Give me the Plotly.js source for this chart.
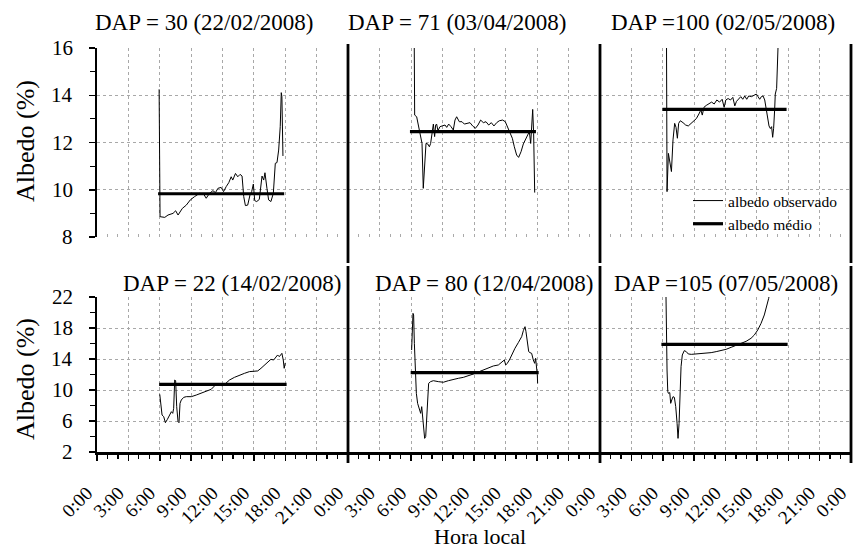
<!DOCTYPE html>
<html>
<head>
<meta charset="utf-8">
<script src="https://cdn.plot.ly/plotly-3.0.1.min.js"></script>
<style>html,body{margin:0;padding:0;background:#fff;}</style>
</head>
<body>
<div id="chart" style="width:856px;height:551px;"></div>
<script>
// ---- DATA ----
const panelTitles = [
  "DAP = 30 (22/02/2008)", "DAP = 71 (03/04/2008)", "DAP =100 (02/05/2008)",
  "DAP = 22 (14/02/2008)", "DAP = 80 (12/04/2008)", "DAP =105 (07/05/2008)"
];
const tickHours  = [0, 3, 6, 9, 12, 15, 18, 21, 24];
const tickLabels = ["0:00","3:00","6:00","9:00","12:00","15:00","18:00","21:00","0:00"];
const yTicksTop    = [8, 10, 12, 14, 16];
const yTicksBottom = [2, 6, 10, 14, 18, 22];

// DAP = 30
const hours_DAP30 = [5.94,6.03,6.48,6.79,7.27,7.52,7.75,8.16,8.54,8.92,9.33,9.81,10.19,10.44,10.76,11.08,11.33,11.56,11.87,12.10,12.35,12.60,12.83,12.98,13.24,13.46,13.68,13.87,14.03,14.19,14.41,14.63,14.79,14.95,15.08,15.27,15.52,15.78,15.94,16.06,16.25,16.41,16.63,16.86,17.05,17.21,17.37,17.52,17.62,17.68,17.78];
const albedo_DAP30 = [14.25,8.86,8.83,8.93,9.00,9.11,8.93,9.21,9.35,9.57,9.71,9.85,9.82,9.64,9.85,9.96,9.88,10.06,10.10,9.92,10.13,10.30,10.55,10.41,10.69,10.55,10.65,10.58,9.71,9.33,9.35,9.78,9.92,10.24,9.54,9.50,9.59,10.58,10.41,10.72,10.06,9.57,9.50,9.85,11.12,11.15,11.68,12.67,14.11,13.94,11.43];

// DAP = 71
const hours_DAP71 = [6.29,6.35,6.54,6.73,6.95,7.05,7.17,7.30,7.43,7.59,7.75,7.87,8.03,8.13,8.25,8.35,8.44,8.57,8.76,9.02,9.24,9.40,9.59,9.81,10.03,10.19,10.35,10.60,10.86,11.08,11.30,11.62,11.87,12.13,12.38,12.63,12.89,13.14,13.40,13.65,13.90,14.16,14.41,14.73,14.98,15.21,15.43,15.65,15.84,16.06,16.25,16.48,16.70,16.92,17.11,17.27,17.40,17.52,17.59,17.68,17.78];
const albedo_DAP71 = [17.5,13.16,13.09,12.60,12.18,11.96,10.06,11.12,11.96,11.94,11.82,11.96,12.39,12.78,12.25,12.74,12.78,12.50,12.67,12.70,12.74,12.64,12.78,12.67,12.53,12.95,13.09,12.88,12.88,12.78,12.81,12.84,12.70,12.60,12.74,12.95,12.84,12.88,12.74,12.84,12.70,12.84,12.92,12.95,12.88,12.64,12.39,12.18,11.82,11.47,11.37,11.61,11.94,12.13,12.32,12.46,11.96,12.67,13.40,12.39,9.88];

// DAP = 100
const hours_DAP100 = [6.35,6.41,6.54,6.67,6.83,6.98,7.14,7.27,7.40,7.52,7.68,7.94,8.19,8.44,8.70,8.95,9.21,9.46,9.65,9.78,9.94,10.16,10.41,10.67,10.92,11.17,11.43,11.68,11.87,12.03,12.25,12.48,12.70,12.89,13.05,13.27,13.46,13.65,13.84,14.03,14.22,14.48,14.73,14.95,15.11,15.27,15.43,15.59,15.75,15.90,16.03,16.16,16.29,16.41,16.51,16.60,16.70,16.76,16.89,17.02,17.08];
const albedo_DAP100 = [17.5,9.92,11.54,11.12,10.77,12.11,12.81,12.64,12.18,12.81,12.92,12.84,12.74,12.70,12.81,12.88,13.01,13.21,13.38,13.16,13.49,13.57,13.63,13.71,13.63,13.80,13.71,13.83,13.49,13.80,13.86,13.80,13.91,13.55,13.74,13.86,13.94,13.83,13.97,13.83,13.97,13.94,14.00,14.05,13.94,13.83,13.94,13.97,13.80,13.45,13.16,12.70,12.59,12.67,12.22,12.60,13.38,14.05,14.29,15.94,16.8];

// DAP = 22
const hours_DAP22 = [6.00,6.10,6.22,6.38,6.54,6.73,6.95,7.11,7.24,7.33,7.43,7.52,7.62,7.75,7.84,7.94,8.06,8.29,8.54,9.02,9.49,9.97,10.44,10.92,11.33,11.71,12.03,12.35,12.67,13.14,13.62,14.10,14.57,15.05,15.37,15.68,16.00,16.32,16.63,16.89,17.05,17.27,17.43,17.68,17.81,17.90,18.00];
const albedo_DAP22 = [9.44,7.85,6.77,6.56,5.78,6.21,6.77,7.20,6.99,7.63,11.29,11.20,7.85,5.91,5.78,8.28,8.71,9.05,9.14,9.14,9.35,9.57,9.78,10.09,10.65,10.65,10.52,10.86,11.29,11.63,11.94,12.15,12.37,12.37,12.46,12.80,13.23,13.66,13.96,13.87,14.20,14.52,14.30,14.73,13.87,12.80,13.50];

// DAP = 80
const hours_DAP80 = [6.06,6.19,6.25,6.32,6.41,6.51,6.63,6.79,6.92,7.02,7.11,7.21,7.30,7.40,7.49,7.59,7.68,7.87,8.13,8.60,9.08,9.56,10.03,10.51,10.98,11.46,11.94,12.41,12.89,13.37,13.84,14.32,14.73,14.89,15.02,15.17,15.37,15.59,15.90,16.22,16.54,16.70,16.86,16.95,17.08,17.21,17.33,17.49,17.65,17.78,17.87,17.97,18.03,18.06];
const albedo_DAP80 = [15.16,19.89,19.68,16.02,11.72,9.57,8.28,7.42,6.99,7.85,6.56,4.41,3.76,3.98,6.13,9.57,10.86,11.08,11.20,11.08,11.00,11.20,11.38,11.51,11.63,11.81,12.06,12.32,12.58,12.80,13.10,13.23,13.66,13.87,13.23,13.44,13.87,14.52,15.38,16.11,16.88,17.66,18.17,17.53,16.24,14.95,14.82,14.73,13.87,13.44,14.09,13.10,11.94,10.86];

// DAP = 105
const hours_DAP105 = [6.29,6.35,6.41,6.48,6.54,6.67,6.76,6.86,6.98,7.11,7.24,7.37,7.46,7.56,7.65,7.75,7.87,8.06,8.25,8.44,8.73,9.21,9.68,10.16,10.63,11.11,11.59,12.06,12.54,13.02,13.49,13.97,14.44,14.76,15.08,15.40,15.71,15.94,16.13,16.29];
const albedo_DAP105 = [24.0,16.02,12.58,9.78,9.57,9.66,8.28,8.71,9.14,9.05,7.85,5.70,3.76,5.70,9.57,13.01,14.52,15.08,14.95,14.65,14.60,14.65,14.69,14.73,14.82,14.95,15.08,15.25,15.51,15.76,16.02,16.28,16.67,17.10,17.74,18.60,19.68,20.75,21.83,23.0];

// mean albedo per panel (value and time span, hours)
const meanAlbedo = [9.83, 12.46, 13.40, 10.73, 12.24, 15.89];
const meanStart  = [5.84, 5.90, 5.97, 5.94, 5.97, 5.87];
const meanEnd    = [17.90, 17.90, 17.84, 18.13, 18.16, 17.94];

const obsHours  = [hours_DAP30, hours_DAP71, hours_DAP100, hours_DAP22, hours_DAP80, hours_DAP105];
const obsAlbedo = [albedo_DAP30, albedo_DAP71, albedo_DAP100, albedo_DAP22, albedo_DAP80, albedo_DAP105];

// ---- LAYOUT ----
const W = 856, H = 551;
const FONT = "Liberation Serif, Times New Roman, serif";
const colDom = [[97/W, 348/W], [348/W, 600/W], [600/W, 851/W]];
const rowDom = [[1-237/H, 1-48/H], [1-452/H, 1-297/H]];
const yRanges = [[8, 16], [2, 22]];
const yTicks = [yTicksTop, yTicksBottom];

const traces = [];
for (let i = 0; i < 6; i++) {
  const ax = i === 0 ? '' : String(i + 1);
  traces.push({
    x: obsHours[i], y: obsAlbedo[i], xaxis: 'x' + ax, yaxis: 'y' + ax,
    type: 'scatter', mode: 'lines', name: 'albedo observado',
    line: {color: '#000', width: 1}, showlegend: i === 0, hoverinfo: 'skip'
  });
  traces.push({
    x: [meanStart[i], meanEnd[i]], y: [meanAlbedo[i], meanAlbedo[i]],
    xaxis: 'x' + ax, yaxis: 'y' + ax,
    type: 'scatter', mode: 'lines', name: 'albedo médio',
    line: {color: '#000', width: 3.2}, showlegend: i === 0, hoverinfo: 'skip'
  });
}

const layout = {
  width: W, height: H,
  margin: {l: 0, r: 0, t: 0, b: 0},
  paper_bgcolor: '#fff', plot_bgcolor: 'rgba(0,0,0,0)',
  font: {family: FONT, color: '#000'},
  showlegend: true,
  legend: {
    x: 688/W, y: 1 - 184/H, xanchor: 'left', yanchor: 'top',
    bgcolor: 'rgba(0,0,0,0)', font: {family: FONT, size: 15.5, color: '#000'},
    tracegroupgap: 0, itemwidth: 30
  },
  annotations: [], shapes: []
};

for (let i = 0; i < 6; i++) {
  const row = Math.floor(i / 3), col = i % 3;
  const key = i === 0 ? '' : String(i + 1);
  const bottom = row === 1;
  const xa = {
    domain: colDom[col], range: [0, 24], anchor: 'y' + key,
    tickmode: 'array', tickvals: tickHours,
    ticktext: tickLabels.map((t, k) => (k === tickHours.length - 1 && col < 2) ? '' : t),
    showgrid: true, gridcolor: '#a8a8a8', griddash: 'dot', gridwidth: 1,
    zeroline: false, fixedrange: true
  };
  if (bottom) {
    Object.assign(xa, {
      showline: true, linecolor: '#000', linewidth: 2.5,
      ticks: 'outside', ticklen: 6, tickwidth: 1.5, tickcolor: '#000',
      tickangle: -45, tickfont: {family: FONT, size: 19, color: '#000'},
      ticklabelstandoff: 14, ticklabelshift: -10, ticklabeloverflow: 'allow',
      minor: {tickmode: 'linear', tick0: 0, dtick: 1, ticks: 'outside', ticklen: 4, tickwidth: 1.2, tickcolor: '#000', showgrid: false}
    });
  } else {
    Object.assign(xa, {
      showline: false, showticklabels: false,
      ticks: 'inside', ticklen: 3, tickcolor: '#aaa', tickwidth: 1,
      minor: {tickmode: 'linear', tick0: 0, dtick: 1, ticks: 'inside', ticklen: 3, tickwidth: 1, tickcolor: '#aaa', showgrid: false}
    });
  }
  const dt = yTicks[row][1] - yTicks[row][0];
  const ya = {
    domain: rowDom[row], range: yRanges[row], anchor: 'x' + key,
    tickmode: 'array', tickvals: yTicks[row],
    showgrid: true, gridcolor: '#a8a8a8', griddash: 'dot', gridwidth: 1,
    zeroline: false, fixedrange: true, showticklabels: false
  };
  if (col === 0) {
    Object.assign(ya, {
      showline: true, linecolor: '#000', linewidth: 2.2,
      ticks: 'outside', ticklen: 6, tickwidth: 1.5, tickcolor: '#000',
      minor: {tickmode: 'linear', tick0: yTicks[row][0], dtick: dt / 2, ticks: 'outside', ticklen: 5, tickwidth: 1.2, tickcolor: '#000', showgrid: false}
    });
    // tick labels, placed on the axis scale, set back from the axis line
    yTicks[row].forEach(v => {
      layout.annotations.push({
        text: String(v), xref: 'paper', yref: 'y' + key, x: 75/W, y: v,
        xanchor: 'right', yanchor: 'middle', showarrow: false,
        font: {family: FONT, size: 21, color: '#000'}
      });
    });
  } else {
    Object.assign(ya, {showline: false, ticks: ''});
  }
  layout['xaxis' + key] = xa;
  layout['yaxis' + key] = ya;
}

// panel titles
const titlePos = [[204, 23], [457, 23], [723, 23], [232, 283], [484, 283], [726, 283]];
for (let i = 0; i < 6; i++) {
  layout.annotations.push({
    text: panelTitles[i], xref: 'paper', yref: 'paper',
    x: titlePos[i][0]/W, y: 1 - titlePos[i][1]/H, xanchor: 'center', yanchor: 'middle',
    showarrow: false, font: {family: FONT, size: 23, color: '#000'}
  });
}
// axis titles
layout.annotations.push({
  text: 'Albedo (%)', xref: 'paper', yref: 'paper', x: 25/W, y: 1 - 141/H,
  xanchor: 'center', yanchor: 'middle', textangle: -90, showarrow: false,
  font: {family: FONT, size: 26, color: '#000'}
});
layout.annotations.push({
  text: 'Albedo (%)', xref: 'paper', yref: 'paper', x: 25/W, y: 1 - 379/H,
  xanchor: 'center', yanchor: 'middle', textangle: -90, showarrow: false,
  font: {family: FONT, size: 26, color: '#000'}
});
layout.annotations.push({
  text: 'Hora local', xref: 'paper', yref: 'paper', x: 480/W, y: 0,
  xanchor: 'center', yanchor: 'bottom', showarrow: false,
  font: {family: FONT, size: 22, color: '#000'}
});

// panel separators (thick vertical frame lines)
[348, 600, 851].forEach(px => {
  layout.shapes.push({type: 'line', xref: 'paper', yref: 'paper',
    x0: px/W, x1: px/W, y0: 1 - 263/H, y1: 1 - 44/H, line: {color: '#000', width: 2.8}});
  layout.shapes.push({type: 'line', xref: 'paper', yref: 'paper',
    x0: px/W, x1: px/W, y0: 1 - 463/H, y1: 1 - 266/H, line: {color: '#000', width: 2.8}});
});

Plotly.newPlot('chart', traces, layout, {staticPlot: true, displayModeBar: false});
</script>
</body>
</html>
